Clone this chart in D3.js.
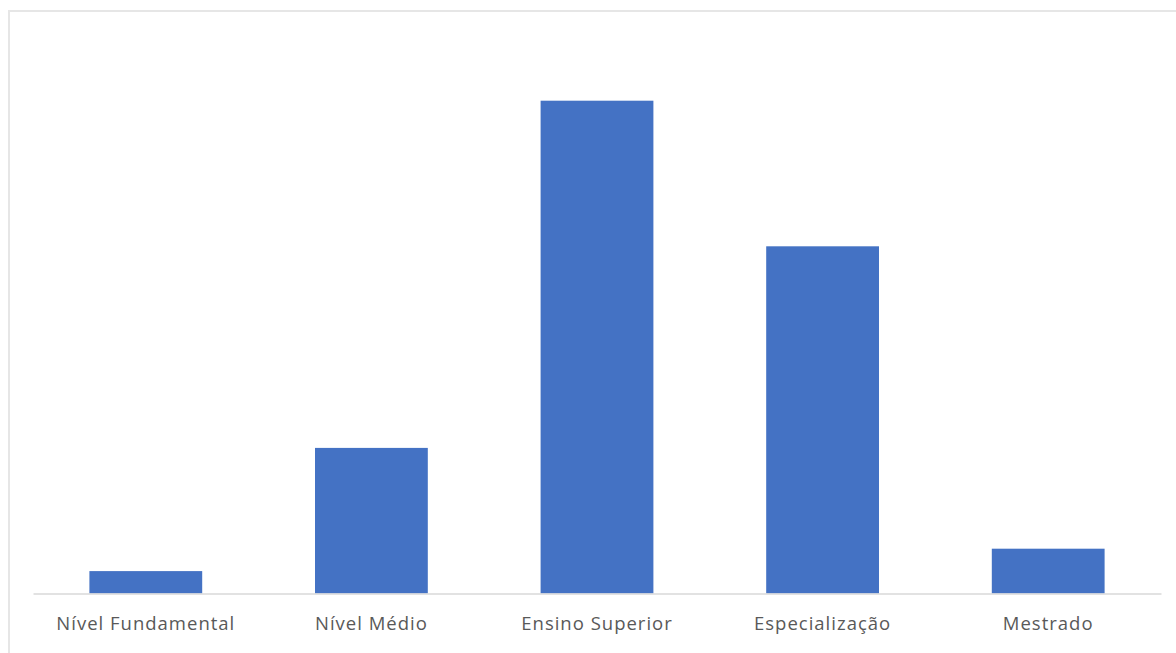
<!DOCTYPE html>
<html>
<head>
<meta charset="utf-8">
<script src="https://cdn.jsdelivr.net/npm/d3@7"></script>
<style>
  html, body { margin: 0; padding: 0; background: #fff; }
  svg { display: block; }
</style>
</head>
<body>
<svg id="chart" width="1176" height="653"></svg>
<script>
// Escolaridade: number of people per education level
const categories = ["Nível Fundamental", "Nível Médio", "Ensino Superior", "Especialização", "Mestrado"];
const values = [2, 13, 44, 31, 4];
const yMax = 50;

const W = 1176, H = 653;
const margin = { top: 33.5, right: 15, bottom: 59.5, left: 33 };
const svg = d3.select("#chart");

// chart frame
svg.append("rect")
  .attr("x", 9).attr("y", 11)
  .attr("width", W + 10).attr("height", H + 10)
  .attr("fill", "#fff")
  .attr("stroke", "#e6e6e6")
  .attr("stroke-width", 2);

const x = d3.scaleBand()
  .domain(categories)
  .range([margin.left, W - margin.right])
  .paddingInner(0.5)
  .paddingOuter(0.25);

const y = d3.scaleLinear()
  .domain([0, yMax])
  .range([H - margin.bottom, margin.top]);

svg.append("g")
  .selectAll("rect")
  .data(values)
  .join("rect")
  .attr("x", (d, i) => x(categories[i]))
  .attr("y", d => y(d))
  .attr("width", x.bandwidth())
  .attr("height", d => y(0) - y(d))
  .attr("fill", "#4472c4");

const axis = svg.append("g")
  .attr("transform", `translate(0,${y(0)})`)
  .call(d3.axisBottom(x).tickSize(0).tickPadding(23));

axis.select(".domain")
  .attr("stroke", "#d9d9d9")
  .attr("stroke-width", 1.5);

axis.selectAll("text")
  .attr("fill", "#595959")
  .style("font-family", "'Open Sans', sans-serif")
  .style("font-size", "18.5px")
  .style("letter-spacing", "1px");
</script>
</body>
</html>
